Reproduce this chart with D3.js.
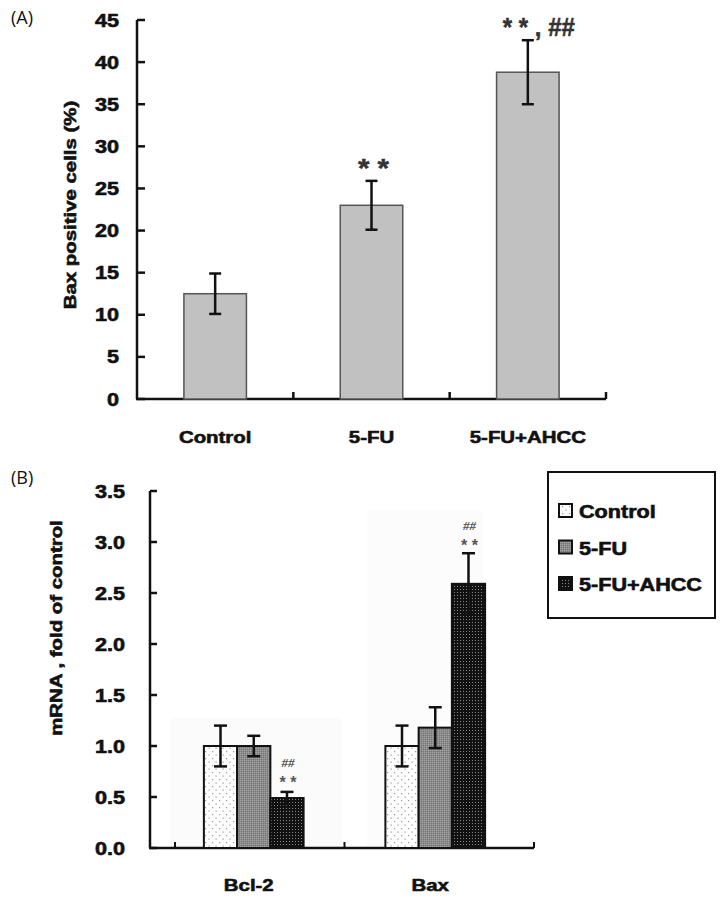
<!DOCTYPE html>
<html><head><meta charset="utf-8">
<script src="https://cdn.jsdelivr.net/npm/d3@7"></script>
<style>body{margin:0;background:#fff}svg{display:block}</style>
</head><body>
<svg id="c" width="724" height="905"></svg>
<script>
// ---- Data: panel A ----
const groupsA = ["Control", "5-FU", "5-FU+AHCC"];
const valuesA = [12.5, 23.0, 38.8];
const errorsA = [2.4, 2.9, 3.8];
const annotA = ["", "* *", "* * , ##"];
const ticksA = [0, 5, 10, 15, 20, 25, 30, 35, 40, 45];

// ---- Data: panel B ----
const genesB = ["Bcl-2", "Bax"];
const seriesB = ["Control", "5-FU", "5-FU+AHCC"];
const valuesB = { "Bcl-2": [1.0, 1.0, 0.49], "Bax": [1.0, 1.18, 2.59] };
const errorsB = { "Bcl-2": [0.2, 0.1, 0.06], "Bax": [0.2, 0.2, 0.3] };
const annotB = { "Bcl-2": ["", "", "##|**"], "Bax": ["", "", "##|**"] };
const ticksB = [0, 0.5, 1.0, 1.5, 2.0, 2.5, 3.0, 3.5];

const svg = d3.select("#c");
const FONT = "'Liberation Sans', Arial, sans-serif";
const SX = 1.2;

function btext(g, x, y, txt, size, anchor, rot) {
  return g.append("text")
    .attr("transform", `translate(${x},${y}) rotate(${rot || 0}) scale(${SX},1)`)
    .attr("text-anchor", anchor || "middle")
    .attr("font-family", FONT).attr("font-weight", "bold")
    .attr("font-size", size).attr("fill", "#111")
    .attr("stroke", "#111").attr("stroke-width", 0.6).text(txt);
}

// patterns
const defs = svg.append("defs");
const p1 = defs.append("pattern").attr("id", "pCtrl").attr("patternUnits", "userSpaceOnUse").attr("width", 7).attr("height", 7);
p1.append("rect").attr("width", 7).attr("height", 7).attr("fill", "#fdfdfd");
p1.append("rect").attr("x", 2).attr("y", 2).attr("width", 1.2).attr("height", 1.2).attr("fill", "#999");
p1.append("rect").attr("x", 5.5).attr("y", 5.5).attr("width", 1.2).attr("height", 1.2).attr("fill", "#999");
const p2 = defs.append("pattern").attr("id", "pFU").attr("patternUnits", "userSpaceOnUse").attr("width", 2).attr("height", 2);
p2.append("rect").attr("width", 2).attr("height", 2).attr("fill", "#8a8a8a");
p2.append("rect").attr("width", 1).attr("height", 1).attr("fill", "#a0a0a0");
p2.append("rect").attr("x", 1).attr("y", 1).attr("width", 1).attr("height", 1).attr("fill", "#777");
const p3 = defs.append("pattern").attr("id", "pAH").attr("patternUnits", "userSpaceOnUse").attr("width", 3).attr("height", 3);
p3.append("rect").attr("width", 3).attr("height", 3).attr("fill", "#111");
p3.append("rect").attr("x", 1).attr("y", 1).attr("width", 1).attr("height", 1).attr("fill", "#888");
const fillsB = ["url(#pCtrl)", "url(#pFU)", "url(#pAH)"];

// ================= Panel A =================
const gA = svg.append("g");
gA.append("text").attr("x", 11).attr("y", 24).attr("font-family", "'Open Sans', sans-serif")
  .attr("font-size", 18).attr("fill", "#111").text("(A)");

const xA = d3.scaleBand().domain(groupsA).range([137, 606]).paddingInner(0).paddingOuter(0);
const yA = d3.scaleLinear().domain([0, 45]).range([399, 20]);
const bwA = xA.bandwidth() * 0.4;

gA.append("line").attr("x1", 137).attr("x2", 137).attr("y1", yA(45)).attr("y2", yA(0)).attr("stroke", "#111").attr("stroke-width", 2.5);
gA.append("line").attr("x1", 136).attr("x2", 606).attr("y1", yA(0)).attr("y2", yA(0)).attr("stroke", "#111").attr("stroke-width", 2.5);
ticksA.forEach(t => {
  gA.append("line").attr("x1", 137).attr("x2", 145).attr("y1", yA(t)).attr("y2", yA(t)).attr("stroke", "#111").attr("stroke-width", 2.5);
  btext(gA, 119, yA(t) + 6.5, String(t), 18, "end");
});
groupsA.forEach(gname => {
  const xr = xA(gname) + xA.bandwidth();
  gA.append("line").attr("x1", xr).attr("x2", xr).attr("y1", yA(0)).attr("y2", yA(0) - 7).attr("stroke", "#111").attr("stroke-width", 2.5);
});
groupsA.forEach((gname, i) => {
  const cx = xA(gname) + xA.bandwidth() / 2;
  gA.append("rect").attr("x", cx - bwA / 2).attr("y", yA(valuesA[i])).attr("width", bwA)
    .attr("height", yA(0) - yA(valuesA[i])).attr("fill", "#c1c1c1").attr("stroke", "#555").attr("stroke-width", 1.5);
  const top = yA(valuesA[i] + errorsA[i]), bot = yA(valuesA[i] - errorsA[i]);
  gA.append("line").attr("x1", cx).attr("x2", cx).attr("y1", top).attr("y2", bot).attr("stroke", "#111").attr("stroke-width", 2.5);
  [top, bot].forEach(yy => gA.append("line").attr("x1", cx - 6).attr("x2", cx + 6).attr("y1", yy).attr("y2", yy).attr("stroke", "#111").attr("stroke-width", 2.5));
  if (annotA[i]) {
    const t = gA.append("text").attr("x", i === 1 ? cx + 2 : cx + 11).attr("y", top - 4).attr("text-anchor", "middle")
      .attr("font-family", FONT).attr("font-weight", "bold").attr("font-size", 26).attr("fill", "#333")
      .attr("stroke", "#333").attr("stroke-width", 0.5)
      .attr("textLength", i === 1 ? 31 : 72).attr("lengthAdjust", "spacingAndGlyphs")
      .text(annotA[i]);
  }
  btext(gA, cx, 443, gname, 17, "middle");
});
btext(gA, 76, 205, "Bax positive cells (%)", 17, "middle", -90);

// ================= Panel B =================
const gB = svg.append("g");
gB.append("text").attr("x", 11).attr("y", 484).attr("font-family", "'Open Sans', sans-serif")
  .attr("font-size", 18).attr("fill", "#111").text("(B)");

const x0B = d3.scaleBand().domain(genesB).range([163, 526]);
const x1B = d3.scaleBand().domain(seriesB).range([0, x0B.bandwidth()]).paddingOuter(1.23);
const yB = d3.scaleLinear().domain([0, 3.5]).range([848, 491]);

gB.append("rect").attr("x", 170).attr("y", 718).attr("width", 172).attr("height", 130).attr("fill", "#fbfbfb");
gB.append("rect").attr("x", 367).attr("y", 510).attr("width", 115).attr("height", 338).attr("fill", "#fcfcfc");

gB.append("line").attr("x1", 150).attr("x2", 150).attr("y1", yB(3.5)).attr("y2", yB(0)).attr("stroke", "#111").attr("stroke-width", 2.5);
gB.append("line").attr("x1", 149).attr("x2", 534).attr("y1", yB(0)).attr("y2", yB(0)).attr("stroke", "#111").attr("stroke-width", 2.5);
ticksB.forEach(t => {
  gB.append("line").attr("x1", 150).attr("x2", 157).attr("y1", yB(t)).attr("y2", yB(t)).attr("stroke", "#111").attr("stroke-width", 2.5);
  btext(gB, 125, yB(t) + 6.5, t.toFixed(1), 18, "end");
});
[175, x0B("Bax"), 534].forEach(xx => {
  gB.append("line").attr("x1", xx).attr("x2", xx).attr("y1", yB(0)).attr("y2", yB(0) - 6).attr("stroke", "#111").attr("stroke-width", 2);
});

genesB.forEach(gene => {
  const gx = x0B(gene);
  seriesB.forEach((s, j) => {
    const v = valuesB[gene][j], e = errorsB[gene][j];
    const bx = gx + x1B(s), bw = x1B.bandwidth();
    gB.append("rect").attr("x", bx).attr("y", yB(v)).attr("width", bw).attr("height", yB(0) - yB(v))
      .attr("fill", fillsB[j]).attr("stroke", "#111").attr("stroke-width", 2);
    const cx = bx + bw / 2, top = yB(v + e), bot = yB(v - e);
    gB.append("line").attr("x1", cx).attr("x2", cx).attr("y1", top).attr("y2", bot).attr("stroke", "#111").attr("stroke-width", 2.5);
    [top, bot].forEach(yy => gB.append("line").attr("x1", cx - 6.5).attr("x2", cx + 6.5).attr("y1", yy).attr("y2", yy).attr("stroke", "#111").attr("stroke-width", 2.5));
    const an = annotB[gene][j];
    if (an) {
      const [a1, a2] = an.split("|");
      const base = gene === "Bcl-2" ? yB(v) - 14 : top - 6;
      gB.append("text").attr("x", cx + 1).attr("y", base - 17).attr("text-anchor", "middle")
        .attr("font-family", "'Liberation Serif', serif").attr("font-style", "italic").attr("font-weight", "bold").attr("font-size", 13).attr("fill", "#555").text(a1);
      gB.append("text").attr("x", cx + 1).attr("y", base + 4).attr("text-anchor", "middle")
        .attr("font-family", FONT).attr("font-weight", "bold").attr("font-size", 16).attr("fill", "#555").text(a2.split("").join(" "));
    }
  });
  btext(gB, gx + x0B.bandwidth() / 2 - 5, 891, gene, 17, "middle");
});
btext(gB, 62, 628, "mRNA , fold of  control", 17, "middle", -90);

const lg = gB.append("g");
lg.append("rect").attr("x", 548).attr("y", 472).attr("width", 167).attr("height", 146).attr("fill", "#fff").attr("stroke", "#111").attr("stroke-width", 2);
seriesB.forEach((s, j) => {
  const yy = 511 + j * 36.5;
  lg.append("rect").attr("x", 559).attr("y", yy - 7).attr("width", 13).attr("height", 13)
    .attr("fill", fillsB[j]).attr("stroke", "#111").attr("stroke-width", 2);
  btext(lg, 579, yy + 7, s, 18, "start");
});
</script>
</body></html>
